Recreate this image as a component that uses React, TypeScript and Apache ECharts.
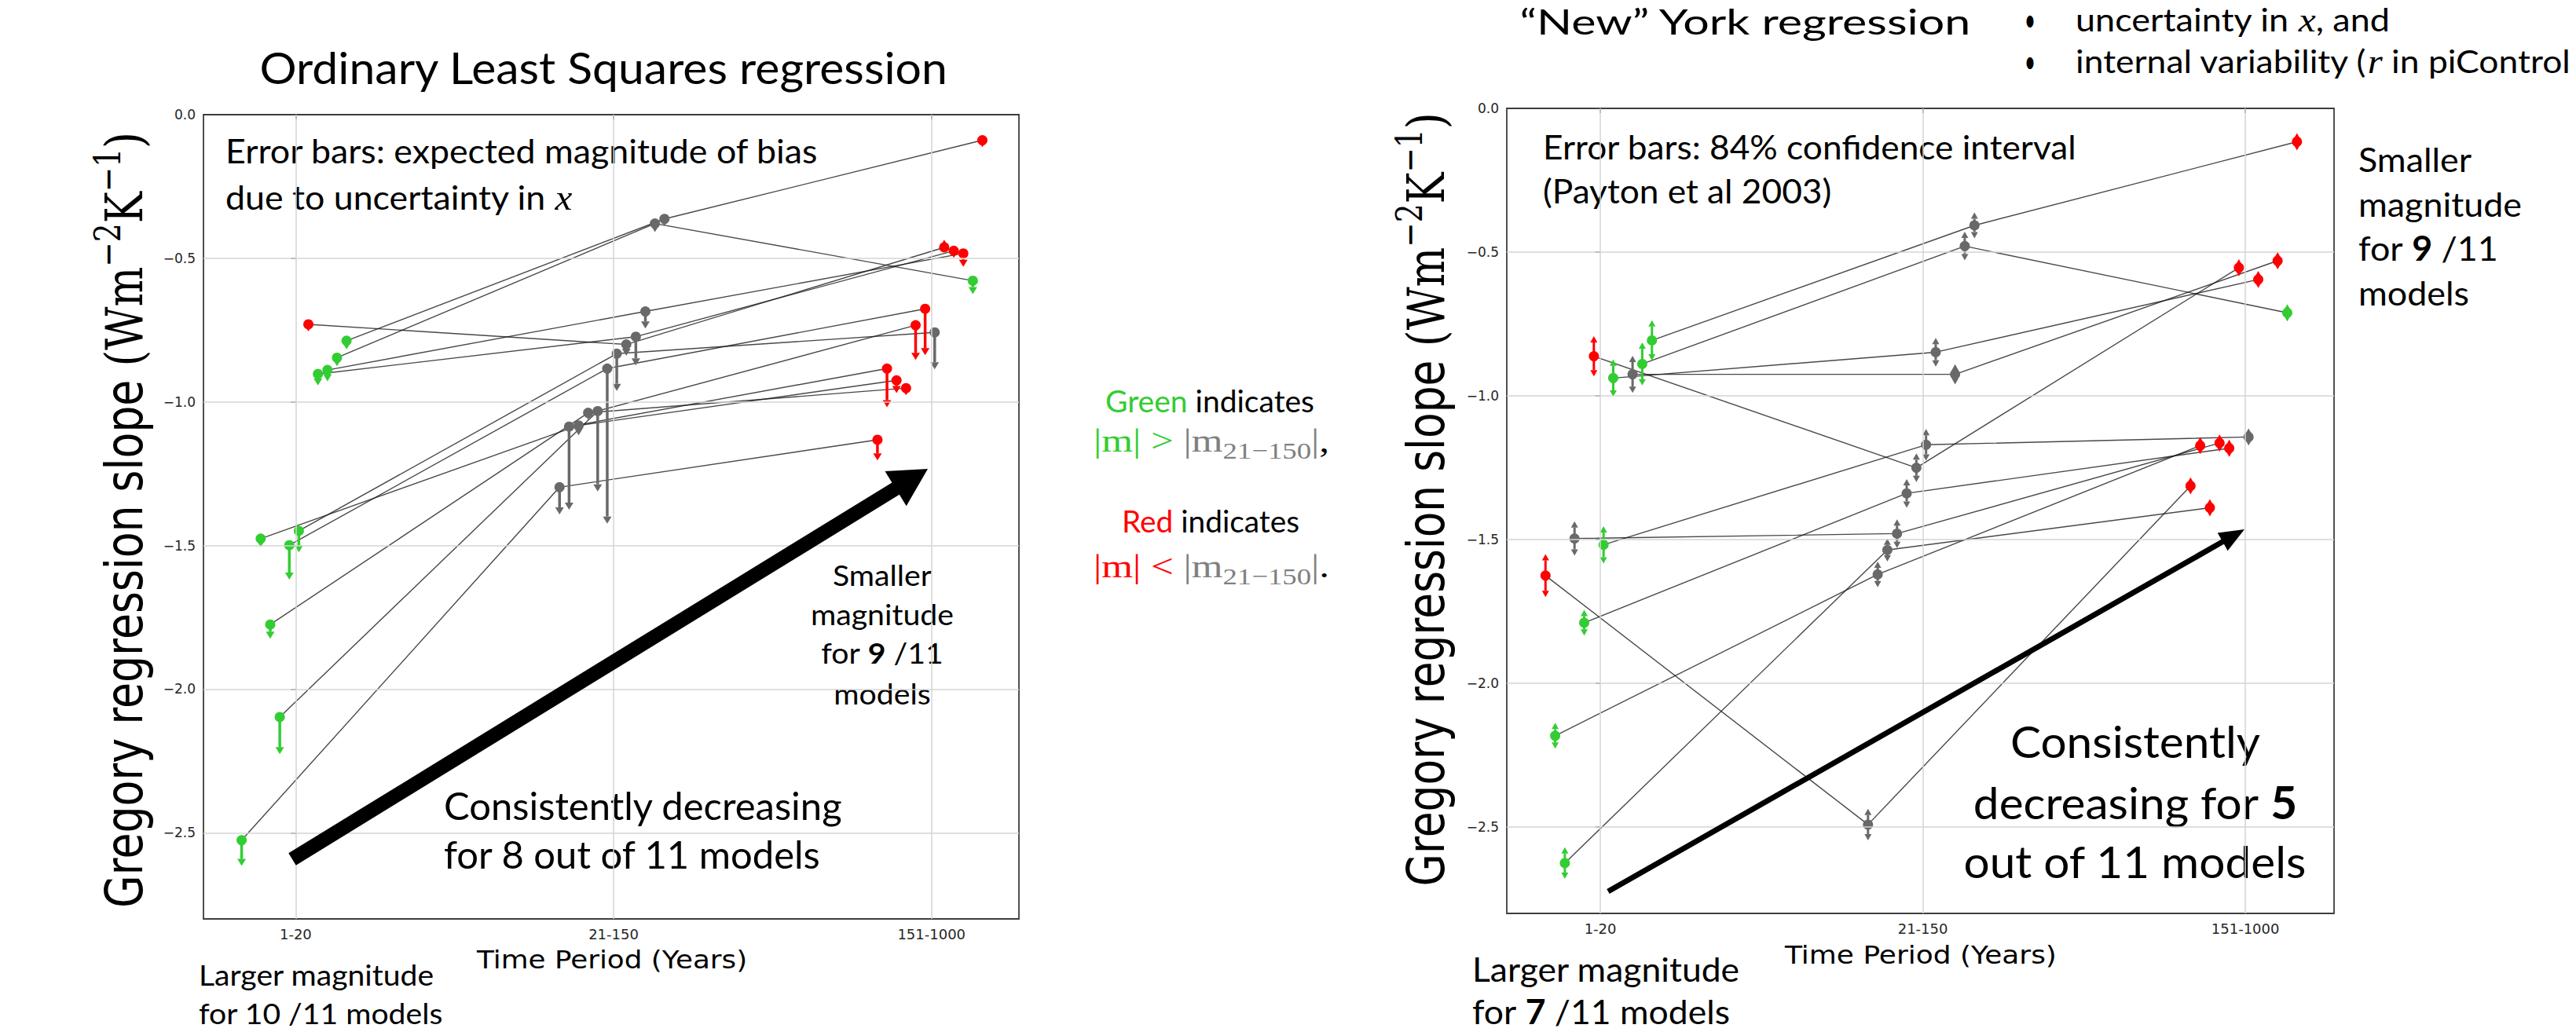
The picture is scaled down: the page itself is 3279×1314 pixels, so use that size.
import React, { useEffect, useRef } from 'react';
import * as echarts from 'echarts';

const W = 3279;
const H = 1314;

// x categories (time periods) and y tick values
const periods = ['1-20', '21-150', '151-1000'];
const yTickValues = [0, -0.5, -1.0, -1.5, -2.0, -2.5];

// Ordinary least squares Gregory slopes per model, one array per period
const olsEarly = [-2.526, null, -1.476, -1.775, -2.097, -1.499, -1.449, -0.73, -0.903, -0.889, -0.846, -0.787];
const olsMid = [-1.297, -1.086, -1.082, -1.038, -1.032, -0.884, -0.832, -0.8, -0.773, -0.685, -0.379, -0.363];
const olsLate = [-1.132, -0.884, -0.925, -0.952, -0.733, -0.676, -0.758, -0.462, -0.474, -0.483, -0.578, -0.089];
// expected bias magnitude (positive: pointing to steeper slopes)
const olsBiasEarly = [0.065, null, 0.005, 0.025, 0.105, 0.095, 0.05, 0, 0.015, 0.015, 0.005, 0.005];
const olsBiasMid = [0.07, 0.265, 0.01, 0, 0.255, 0.515, 0.105, 0.015, 0.075, 0.035, 0.005, 0];
const olsBiasLate = [0.047, 0.11, 0.02, 0, 0.096, 0.137, 0.104, -0.002, 0, 0.022, 0.022, 0];
// g: |m| larger than 21-150, r: smaller, n: not distinguished
const olsSigEarly = ['g', null, 'g', 'g', 'g', 'g', 'g', 'r', 'g', 'g', 'g', 'g'];
const olsSigMid = ['n', 'n', 'n', 'n', 'n', 'n', 'n', 'n', 'n', 'n', 'n', 'n'];
const olsSigLate = ['r', 'r', 'r', 'r', 'r', 'r', 'n', 'r', 'r', 'r', 'g', 'r'];

// "New" York regression slopes per model, one array per period
const yorkEarly = [-1.625, -2.182, -2.625, -1.496, -1.789, -0.862, -1.518, -0.938, null, -0.925, -0.889, -0.807];
const yorkMid = [-2.491, -1.621, -1.536, -1.479, -1.339, -1.25, -1.17, -0.848, null, -0.925, -0.479, -0.407];
const yorkLate = [-1.313, -1.173, -1.389, -1.164, -1.182, -0.554, -1.143, -0.595, null, -0.53, -0.711, -0.116];
// half width of the 84% confidence interval
const yorkCiEarly = [0.053, 0.023, 0.033, 0.038, 0.023, 0.048, 0.043, 0.043, null, 0.043, 0.053, 0.048];
const yorkCiMid = [0.033, 0.023, 0.018, 0.028, 0.028, 0.028, 0.033, 0.028, null, 0.013, 0.028, 0.023];
const yorkCiLate = [0.008, 0.008, 0.008, 0.008, 0.008, 0.008, 0.008, 0.008, null, 0.008, 0.008, 0.008];
const yorkSigEarly = ['r', 'g', 'g', 'n', 'g', 'r', 'g', 'g', null, 'n', 'g', 'g'];
const yorkSigMid = ['n', 'n', 'n', 'n', 'n', 'n', 'n', 'n', null, 'n', 'n', 'n'];
const yorkSigLate = ['r', 'r', 'r', 'r', 'r', 'r', 'n', 'r', null, 'r', 'g', 'r'];

const GREEN = '#32cd32';
const RED = '#ff0000';
const GRAY = '#696969';
const PALETTE = [GREEN, RED, GRAY];
const SIG_INDEX: Record<string, number> = { g: 0, r: 1, n: 2 };
const INK = '#000000';

// horizontal spread of the models inside each period column
const jitter = (k: number) => -0.17 + 0.03 * k;

type Col = (number | null)[];

function buildSeries(gi: number, vals: Col[], errs: Col[], sigs: (string | null)[][], twoSided: boolean) {
  const out: any[] = [];
  // grid lines drawn through the axis scales
  out.push({
    type: 'line',
    xAxisIndex: gi,
    yAxisIndex: gi,
    data: [],
    z: 1,
    silent: true,
    markLine: {
      silent: true,
      symbol: ['none', 'none'],
      label: { show: false },
      lineStyle: { color: '#d4d4d4', width: 1.5, type: 'solid' },
      data: [
        ...periods.map((_, i) => ({ xAxis: i })),
        ...yTickValues.filter((v) => v !== 0).map((v) => ({ yAxis: v })),
      ],
    },
  });
  const n = vals[0].length;
  for (let k = 0; k < n; k++) {
    const pts: number[][] = [];
    for (let p = 0; p < 3; p++) {
      const v = vals[p][k];
      if (v != null) pts.push([p + jitter(k), v]);
    }
    if (pts.length > 1) {
      out.push({
        type: 'line',
        xAxisIndex: gi,
        yAxisIndex: gi,
        data: pts,
        symbol: 'none',
        showSymbol: false,
        silent: true,
        z: 2,
        lineStyle: { color: '#1a1a1a', width: 1.4, opacity: 0.8 },
      });
    }
  }
  const barData: number[][] = [];
  const dotData: number[][] = [];
  for (let p = 0; p < 3; p++) {
    for (let k = 0; k < n; k++) {
      const v = vals[p][k];
      if (v == null) continue;
      const ci = SIG_INDEX[sigs[p][k] as string];
      barData.push([p + jitter(k), v, errs[p][k] ?? 0, ci]);
      dotData.push([p + jitter(k), v, ci]);
    }
  }
  out.push({
    type: 'custom',
    xAxisIndex: gi,
    yAxisIndex: gi,
    z: 3,
    silent: true,
    encode: { x: 0, y: 1 },
    data: barData,
    renderItem: (_params: any, api: any) => {
      const x = api.value(0);
      const y = api.value(1);
      const e = api.value(2);
      const col = PALETTE[api.value(3)];
      if (twoSided) {
        const top = api.coord([x, y + e]);
        const bot = api.coord([x, y - e]);
        const hw = 4.5;
        const hh = 8;
        return {
          type: 'group',
          children: [
            { type: 'line', shape: { x1: top[0], y1: top[1], x2: bot[0], y2: bot[1] }, style: { stroke: col, lineWidth: 3 } },
            { type: 'polygon', shape: { points: [[top[0] - hw, top[1]], [top[0] + hw, top[1]], [top[0], top[1] - hh]] }, style: { fill: col } },
            { type: 'polygon', shape: { points: [[bot[0] - hw, bot[1]], [bot[0] + hw, bot[1]], [bot[0], bot[1] + hh]] }, style: { fill: col } },
          ],
        };
      }
      const p0 = api.coord([x, y]);
      const p1 = api.coord([x, y - e]);
      const dir = e < 0 ? -1 : 1;
      const hw = 5.5;
      const hh = 9;
      return {
        type: 'group',
        children: [
          { type: 'line', shape: { x1: p0[0], y1: p0[1], x2: p1[0], y2: p1[1] }, style: { stroke: col, lineWidth: 3.5 } },
          { type: 'polygon', shape: { points: [[p1[0] - hw, p1[1]], [p1[0] + hw, p1[1]], [p1[0], p1[1] + dir * hh]] }, style: { fill: col } },
        ],
      };
    },
  });
  out.push({
    type: 'scatter',
    xAxisIndex: gi,
    yAxisIndex: gi,
    z: 4,
    silent: true,
    symbol: 'circle',
    symbolSize: 13,
    data: dotData,
    itemStyle: { color: (prm: any) => PALETTE[prm.value[2]], opacity: 1 },
  });
  return out;
}

// ---------- text layout helpers ----------
type Seg = { t: string; c?: string; b?: boolean; i?: boolean; f?: string; k?: number; dy?: number };
type Line = Seg[] | string;
const CENTRAL: Record<string, number> = {
  Lato: 0.387,
  'DejaVu Sans': 0.346,
  'DejaVu Serif': 0.346,
  'Liberation Serif': 0.338,
};
let measureCtx: CanvasRenderingContext2D | null = null;
function textW(css: string, t: string) {
  if (!measureCtx) measureCtx = document.createElement('canvas').getContext('2d');
  measureCtx!.font = css;
  return measureCtx!.measureText(t).width;
}
function segFont(seg: Seg, size: number, fam: string) {
  const f = seg.f ?? fam;
  const s = size * (seg.k ?? 1);
  return { f, s, css: `${seg.i ? 'italic ' : ''}${seg.b ? 'bold ' : ''}${s}px "${f}"` };
}
const segsOf = (line: Line): Seg[] => (typeof line === 'string' ? [{ t: line }] : line);
function lineWidth(line: Line, size: number, fam: string) {
  return segsOf(line).reduce((a, seg) => a + textW(segFont(seg, size, fam).css, seg.t), 0);
}
function lineNode(line: Line, size: number, fam: string, x: number, y: number, align: string, sx: number, rotation = 0) {
  let cx = 0;
  const children: any[] = [];
  for (const seg of segsOf(line)) {
    const { f, s, css } = segFont(seg, size, fam);
    children.push({
      type: 'text',
      x: cx,
      y: -(CENTRAL[f] ?? 0.35) * s + (seg.dy ?? 0) * size,
      silent: true,
      style: {
        text: seg.t,
        font: css,
        fill: seg.c ?? INK,
        align: 'left',
        verticalAlign: 'middle',
        textAlign: 'left',
        textVerticalAlign: 'middle',
      },
    });
    cx += textW(css, seg.t);
  }
  const total = cx * sx;
  const off = align === 'center' ? total / 2 : 0;
  if (rotation) return { type: 'group', x, y: y + off, rotation, scaleX: sx, children, z: 10 };
  return { type: 'group', x: x - off, y, scaleX: sx, children, z: 10 };
}
function block(lines: Line[], baselines: number[], size: number, fam: string, x: number, align: string, fitIdx: number, fitW: number) {
  const sx = fitW / lineWidth(lines[fitIdx], size, fam);
  return lines.map((ln, i) => lineNode(ln, size, fam, x, baselines[i], align, sx));
}
function arrow(x1: number, y1: number, x2: number, y2: number, half: number, headLen: number, headHalf: number) {
  const dx = x2 - x1;
  const dy = y2 - y1;
  const L = Math.hypot(dx, dy);
  const ux = dx / L;
  const uy = dy / L;
  const nx = -uy;
  const ny = ux;
  const bx = x2 - ux * headLen;
  const by = y2 - uy * headLen;
  return {
    type: 'polygon',
    z: 9,
    silent: true,
    shape: {
      points: [
        [x1 + nx * half, y1 + ny * half],
        [bx + nx * half, by + ny * half],
        [bx + nx * headHalf, by + ny * headHalf],
        [x2, y2],
        [bx - nx * headHalf, by - ny * headHalf],
        [bx - nx * half, by - ny * half],
        [x1 - nx * half, y1 - ny * half],
      ],
    },
    style: { fill: '#000' },
  };
}

function yLabel(baseX: number, centerY: number, length: number) {
  const line: Seg[] = [
    { t: 'Gregory regression slope ' },
    { t: '(Wm', f: 'DejaVu Serif' },
    { t: '−2', f: 'DejaVu Serif', k: 0.7, dy: -0.42 },
    { t: 'K', f: 'DejaVu Serif' },
    { t: '−1', f: 'DejaVu Serif', k: 0.7, dy: -0.42 },
    { t: ')', f: 'DejaVu Serif' },
  ];
  const size = 66;
  const sx = length / lineWidth(line, size, 'DejaVu Sans');
  return lineNode(line, size, 'DejaVu Sans', baseX, centerY, 'center', sx, Math.PI / 2);
}

function formula(op: string, tail: string, y: number) {
  const line: Seg[] = [
    { t: '|m| ' + op + ' ', c: op === '>' ? GREEN : RED },
    { t: '|m', c: '#808080' },
    { t: '21−150', c: '#808080', k: 0.72, dy: 0.21 },
    { t: '|', c: '#808080' },
    { t: tail },
  ];
  return block([line], [y], 42, 'Liberation Serif', 1392, 'left', 0, 300);
}

function buildGraphics() {
  const L = 'Lato';
  const els: any[] = [];
  // left panel
  els.push(...block(['Ordinary Least Squares regression'], [107], 56, L, 769, 'center', 0, 877));
  els.push(
    ...block(
      ['Error bars: expected magnitude of bias', [{ t: 'due to uncertainty in ' }, { t: 'x', i: true, f: 'Liberation Serif', k: 1.1 }]],
      [208, 267], 43, L, 287, 'left', 0, 755,
    ),
  );
  els.push(
    ...block(
      ['Smaller', 'magnitude', [{ t: 'for ' }, { t: '9', b: true }, { t: ' /11' }], 'models'],
      [746, 796, 845, 897], 37, L, 1123, 'center', 1, 182,
    ),
  );
  els.push(...block(['Consistently decreasing', 'for 8 out of 11 models'], [1044, 1106], 48, L, 565, 'left', 0, 508));
  els.push(...block(['Time Period (Years)'], [1233], 32, 'DejaVu Sans', 779, 'center', 0, 344));
  els.push(...block(['Larger magnitude', 'for 10 /11 models'], [1255, 1304], 37, L, 253, 'left', 0, 300));
  els.push(yLabel(181, 662, 988));
  els.push(arrow(372, 1094, 1181, 597, 9, 48, 26));

  // centre legend text
  els.push(...block([[{ t: 'Green ', c: GREEN }, { t: 'indicates' }]], [525], 38, L, 1407, 'left', 0, 266));
  els.push(...formula('>', ',', 575));
  els.push(...block([[{ t: 'Red ', c: RED }, { t: 'indicates' }]], [678], 38, L, 1428, 'left', 0, 226));
  els.push(...formula('<', '.', 735));

  // right panel
  els.push(...block(['“New” York regression'], [44], 44, L, 2223, 'center', 0, 577));
  els.push(
    ...block(
      [[{ t: 'uncertainty in ' }, { t: 'x', i: true, f: 'Liberation Serif', k: 1.1 }, { t: ', and' }]],
      [40], 40, L, 2642, 'left', 0, 400,
    ),
  );
  els.push(
    ...block(
      [[{ t: 'internal variability (' }, { t: 'r', i: true, f: 'Liberation Serif', k: 1.1 }, { t: ' in piControl' }]],
      [93], 40, L, 2642, 'left', 0, 630,
    ),
  );
  els.push(...block(['•', '•'], [40, 93], 40, L, 2584, 'center', 0, 14));
  els.push(...block(['Error bars: 84% confidence interval', '(Payton et al 2003)'], [203, 259], 43, L, 1964, 'left', 0, 680));
  els.push(
    ...block(
      ['Smaller', 'magnitude', [{ t: 'for ' }, { t: '9', b: true }, { t: ' /11' }], 'models'],
      [219, 276, 332, 389], 43, L, 3002, 'left', 1, 208,
    ),
  );
  els.push(
    ...block(
      ['Consistently', [{ t: 'decreasing for ' }, { t: '5', b: true }], 'out of 11 models'],
      [965, 1043, 1118], 57, L, 2718, 'center', 2, 437,
    ),
  );
  els.push(...block(['Time Period (Years)'], [1227], 32, 'DejaVu Sans', 2445, 'center', 0, 346));
  els.push(
    ...block(
      ['Larger magnitude', [{ t: 'for ' }, { t: '7', b: true }, { t: ' /11 models' }]],
      [1250, 1304], 43, L, 1874, 'left', 0, 341,
    ),
  );
  els.push(yLabel(1838, 636, 985));
  els.push(arrow(2047, 1135, 2857, 674, 3.5, 32, 13));
  return els;
}

const periodIdx = periods.map((_, i) => i);
const fmtY = (v: number) => (v === 0 ? '0.0' : '−' + Math.abs(v).toFixed(1));

function axisPair(gi: number) {
  const tick = { show: true, length: 6, lineStyle: { color: '#444', width: 1.5 } };
  return {
    x: {
      gridIndex: gi,
      type: 'value',
      min: -0.29,
      max: 2.275,
      axisLine: { show: false },
      splitLine: { show: false },
      axisTick: { ...tick, customValues: periodIdx },
      axisLabel: {
        customValues: periodIdx,
        formatter: (v: number) => periods[Math.round(v)] ?? '',
        fontFamily: 'DejaVu Sans',
        fontSize: 18,
        color: '#262626',
        margin: 10,
      },
    },
    y: {
      gridIndex: gi,
      type: 'value',
      min: -2.8,
      max: 0,
      axisLine: { show: false },
      splitLine: { show: false },
      axisTick: { ...tick, customValues: yTickValues },
      axisLabel: {
        customValues: yTickValues,
        formatter: fmtY,
        fontFamily: 'DejaVu Sans',
        fontSize: 17,
        color: '#262626',
        margin: 10,
      },
    },
  };
}

function buildOption() {
  const a0 = axisPair(0);
  const a1 = axisPair(1);
  const gridBase = { show: true, borderColor: '#3d3d3d', borderWidth: 1.8, backgroundColor: 'transparent', outerBoundsMode: 'none', containLabel: false };
  return {
    animation: false,
    backgroundColor: '#ffffff',
    grid: [
      { ...gridBase, left: 259, top: 146, width: 1038, height: 1024 },
      { ...gridBase, left: 1918, top: 138, width: 1053, height: 1025 },
    ],
    xAxis: [a0.x, a1.x],
    yAxis: [a0.y, a1.y],
    series: [
      ...buildSeries(0, [olsEarly, olsMid, olsLate], [olsBiasEarly, olsBiasMid, olsBiasLate], [olsSigEarly, olsSigMid, olsSigLate], false),
      ...buildSeries(1, [yorkEarly, yorkMid, yorkLate], [yorkCiEarly, yorkCiMid, yorkCiLate], [yorkSigEarly, yorkSigMid, yorkSigLate], true),
    ],
    graphic: { elements: buildGraphics() },
  };
}

export default function App() {
  const ref = useRef<HTMLDivElement>(null);
  useEffect(() => {
    document.body.style.margin = '0';
    const chart = echarts.init(ref.current!, null, { renderer: 'svg', width: W, height: H });
    chart.setOption(buildOption() as any);
    return () => chart.dispose();
  }, []);
  return <div ref={ref} style={{ position: 'absolute', left: 0, top: 0, width: W, height: H, background: '#fff' }} />;
}
